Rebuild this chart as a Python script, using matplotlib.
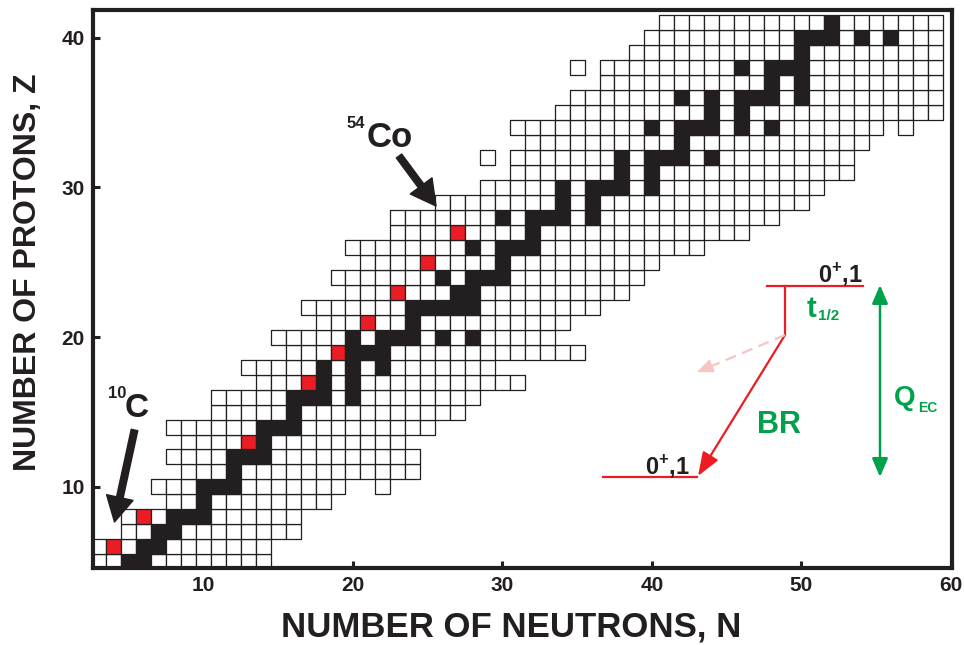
import matplotlib

matplotlib.use("Agg")
import matplotlib.pyplot as plt
from matplotlib.patches import Rectangle
from matplotlib.collections import PatchCollection

W, H = 964, 645

# ---------------------------------------------------------------------------
# Chart data: one row of known nuclides per proton number Z
# ---------------------------------------------------------------------------
Z_VALUES = list(range(5, 42))
N_FIRST = [3, 3, 5, 5, 8, 7, 9, 8, 9, 8,
           11, 11, 14, 13, 16, 15, 18, 17, 20, 19,
           21, 20, 23, 23, 26, 29, 31, 31, 32, 31,
           34, 35, 37, 37, 39, 40, 41]
N_LAST = [14, 14, 16, 16, 18, 19, 24, 24, 23, 25,
          27, 28, 31, 29, 35, 33, 34, 36, 38, 39,
          40, 43, 46, 48, 50, 51, 53, 53, 54, 55,
          59, 59, 59, 59, 59, 59, 59]

# isolated known nuclides outside the contiguous rows
EXTRA_N = [22, 29, 57, 35]
EXTRA_Z = [10, 32, 34, 38]

# stable nuclides (black)
STABLE_Z = [5, 5, 6, 6, 7, 7, 8, 8, 8, 9, 10, 10, 10, 11, 12, 12, 12, 13,
            14, 14, 14, 15, 16, 16, 16, 16, 17, 17, 18, 18, 18, 19, 19, 19,
            20, 20, 20, 20, 20, 20, 21, 22, 22, 22, 22, 22, 23, 23,
            24, 24, 24, 24, 25, 26, 26, 26, 26, 27, 28, 28, 28, 28, 28,
            29, 29, 30, 30, 30, 30, 30, 31, 31, 32, 32, 32, 32, 32, 33,
            34, 34, 34, 34, 34, 34, 35, 35, 36, 36, 36, 36, 36, 36, 37, 37,
            38, 38, 38, 38, 39, 40, 40, 40, 40, 40, 41]
STABLE_N = [5, 6, 6, 7, 7, 8, 8, 9, 10, 10, 10, 11, 12, 12, 12, 13, 14, 14,
            14, 15, 16, 16, 16, 17, 18, 20, 18, 20, 18, 20, 22, 20, 21, 22,
            20, 22, 23, 24, 26, 28, 24, 24, 25, 26, 27, 28, 27, 28,
            26, 28, 29, 30, 30, 28, 30, 31, 32, 32, 30, 32, 33, 34, 36,
            34, 36, 34, 36, 37, 38, 40, 38, 40, 38, 40, 41, 42, 44, 42,
            40, 42, 43, 44, 46, 48, 44, 46, 42, 44, 46, 47, 48, 50, 48, 50,
            46, 48, 49, 50, 50, 50, 51, 52, 54, 56, 52]

# superallowed 0+ -> 0+ emitters (red)
RED_N = [4, 6, 13, 17, 19, 21, 23, 25, 27]
RED_Z = [6, 8, 13, 17, 19, 21, 23, 25, 27]

X_TICKS = [10, 20, 30, 40, 50, 60]
Y_TICKS = [10, 20, 30, 40]

INK = "#231f20"
RED = "#ec1c24"
GREEN = "#00a14b"
PALE = "#f6c4c2"
FONT = "Liberation Sans"

plt.rcParams["font.family"] = [FONT, "DejaVu Sans"]
plt.rcParams["font.weight"] = "bold"
plt.rcParams["mathtext.fontset"] = "custom"
plt.rcParams["mathtext.rm"] = FONT + ":bold"
plt.rcParams["mathtext.bf"] = FONT + ":bold"


def fx(x):
    return x / W


def fy(y):
    return 1.0 - y / H


# axes frame in image pixels, and the pixel <-> (N, Z) scale of the grid
AX_L, AX_R, AX_T, AX_B = 93.0, 952.0, 10.0, 567.5


def n_of(x):
    return 4.0 + (x - 113.8) / 14.945


def z_of(y):
    return 6.5 + (539.33 - y) / 14.972


fig = plt.figure(figsize=(W / 100, H / 100), dpi=100)
ax = fig.add_axes([fx(AX_L), fy(AX_B), (AX_R - AX_L) / W, (AX_B - AX_T) / H])
ax.set_xlim(n_of(AX_L), n_of(AX_R))
ax.set_ylim(z_of(AX_B), z_of(AX_T))

stable = set(zip(STABLE_N, STABLE_Z))
red = set(zip(RED_N, RED_Z))
cells = []
for z, n0, n1 in zip(Z_VALUES, N_FIRST, N_LAST):
    cells += [(n, z) for n in range(n0, n1 + 1)]
cells += list(zip(EXTRA_N, EXTRA_Z))

rects, faces = [], []
for n, z in cells:
    rects.append(Rectangle((n - 0.5, z - 0.5), 1.0, 1.0))
    if (n, z) in red:
        faces.append(RED)
    elif (n, z) in stable:
        faces.append(INK)
    else:
        faces.append("white")
coll = PatchCollection(rects, facecolors=faces, edgecolors=INK,
                       linewidths=0.9, zorder=2)
ax.add_collection(coll)

ax.set_xticks(X_TICKS)
ax.set_yticks(Y_TICKS)
ax.tick_params(direction="in", length=5, width=2.2, labelsize=15,
               colors=INK, pad=6)
for lab in ax.get_xticklabels() + ax.get_yticklabels():
    lab.set_fontweight("bold")
for sp in ax.spines.values():
    sp.set_linewidth(3.0)
    sp.set_color(INK)
    sp.set_zorder(5)

fig.text(fx(511), fy(627), "NUMBER OF NEUTRONS, N", ha="center",
         va="center", fontsize=25, fontweight="bold", color=INK)
fig.text(fx(28), fy(272), "NUMBER OF PROTONS, Z", ha="center",
         va="center", rotation=90, fontsize=23, fontweight="bold",
         color=INK)

# --- labels with arrows -------------------------------------------------
fig.text(fx(108), fy(398), "10", fontsize=12, fontweight="bold", color=INK,
         va="baseline")
fig.text(fx(125), fy(417), "C", fontsize=24, fontweight="bold", color=INK,
         va="baseline")
fig.text(fx(347), fy(128), "54", fontsize=12, fontweight="bold", color=INK,
         va="baseline")
fig.text(fx(367), fy(147), "Co", fontsize=25, fontweight="bold", color=INK,
         va="baseline")

big_arrow = dict(arrowstyle="simple,head_length=1.2,head_width=1.3,"
                 "tail_width=0.32", color=INK, shrinkA=0, shrinkB=0,
                 mutation_scale=15)
ax.annotate("", xy=(fx(114.5), fy(522)), xytext=(fx(134.5), fy(430)),
            xycoords="figure fraction", textcoords="figure fraction",
            arrowprops=big_arrow, zorder=6)
ax.annotate("", xy=(fx(436), fy(206)), xytext=(fx(399), fy(156)),
            xycoords="figure fraction", textcoords="figure fraction",
            arrowprops=big_arrow, zorder=6)

# --- decay level scheme ---------------------------------------------------
def seg(x0, y0, x1, y1, **kw):
    fig.add_artist(plt.Line2D([fx(x0), fx(x1)], [fy(y0), fy(y1)],
                              transform=fig.transFigure, **kw))


seg(767, 286, 863, 286, color=RED, lw=1.6)
seg(785, 286, 785, 335, color=RED, lw=1.6)
seg(603, 477, 697, 477, color=RED, lw=1.6)
seg(785, 335, 706, 368.5, color=PALE, lw=1.6, ls=(0, (5, 3)))
ax.annotate("", xy=(fx(697), fy(372)), xytext=(fx(708), fy(367.5)),
            xycoords="figure fraction", textcoords="figure fraction",
            arrowprops=dict(arrowstyle="-|>,head_length=0.7,head_width=0.3",
                            color=PALE, lw=1.2, shrinkA=0, shrinkB=0,
                            mutation_scale=14), zorder=6)
ax.annotate("", xy=(fx(698), fy(476)), xytext=(fx(785), fy(335)),
            xycoords="figure fraction", textcoords="figure fraction",
            arrowprops=dict(arrowstyle="-|>,head_length=0.8,head_width=0.3",
                            color=RED, lw=1.6, shrinkA=0, shrinkB=0,
                            mutation_scale=18), zorder=6)
ax.annotate("", xy=(fx(880), fy(477)), xytext=(fx(880), fy(285)),
            xycoords="figure fraction", textcoords="figure fraction",
            arrowprops=dict(arrowstyle="<|-|>,head_length=0.7,head_width=0.3",
                            color=GREEN, lw=1.8, shrinkA=0, shrinkB=0,
                            mutation_scale=16), zorder=6)

fig.text(fx(818), fy(282), r"$0^{+}{,}1$", fontsize=17, color=INK,
         va="baseline")
fig.text(fx(645), fy(474), r"$0^{+}{,}1$", fontsize=17, color=INK,
         va="baseline")
fig.text(fx(807), fy(317), "t", fontsize=21, fontweight="bold",
         color=GREEN, va="baseline")
fig.text(fx(818), fy(320), "1/2", fontsize=11, fontweight="bold",
         color=GREEN, va="baseline")
fig.text(fx(757), fy(433), "BR", fontsize=22, fontweight="bold",
         color=GREEN, va="baseline")
fig.text(fx(894), fy(405), "Q", fontsize=20, fontweight="bold",
         color=GREEN, va="baseline")
fig.text(fx(918), fy(412), "EC", fontsize=10, fontweight="bold",
         color=GREEN, va="baseline")

fig.savefig("out.png", dpi=100)
